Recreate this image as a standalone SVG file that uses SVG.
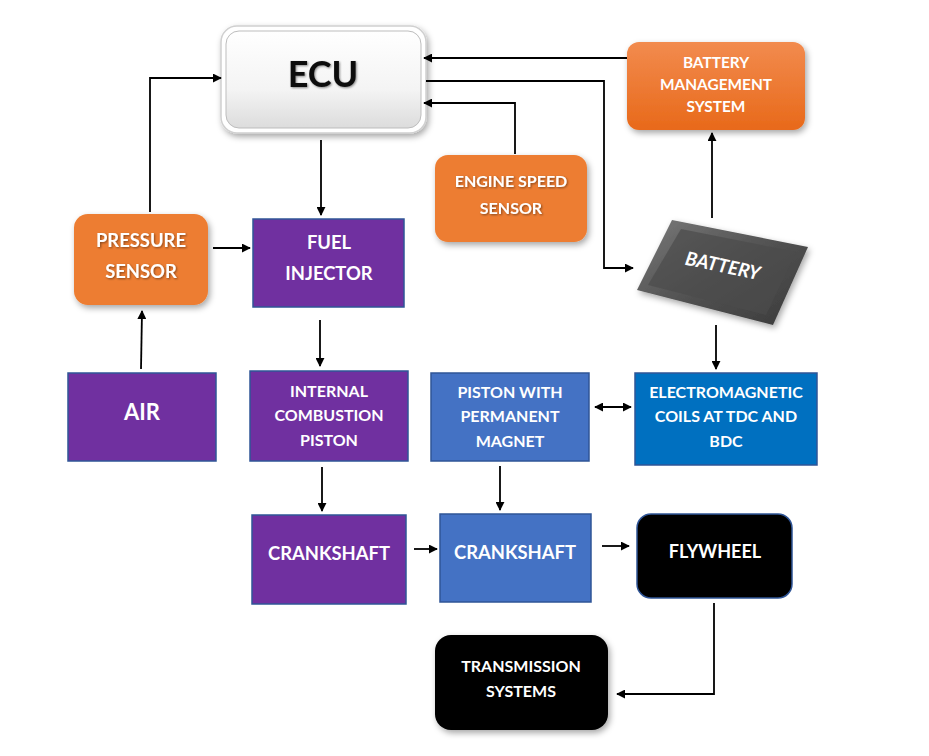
<svg xmlns="http://www.w3.org/2000/svg" width="929" height="756" viewBox="0 0 929 756">
<defs>
  <marker id="arr" viewBox="0 0 10 10" refX="9" refY="5" markerWidth="9" markerHeight="9" markerUnits="userSpaceOnUse" orient="auto-start-reverse">
    <path d="M0,0 L10,5 L0,10 z" fill="#000"/>
  </marker>
  <linearGradient id="ecuG" x1="0" y1="0" x2="0" y2="1">
    <stop offset="0" stop-color="#ffffff"/>
    <stop offset="0.6" stop-color="#f4f4f4"/>
    <stop offset="1" stop-color="#dcdcdc"/>
  </linearGradient>
  <linearGradient id="bmsG" x1="0" y1="0" x2="0" y2="1">
    <stop offset="0" stop-color="#F28B4E"/>
    <stop offset="1" stop-color="#E8691A"/>
  </linearGradient>
  <linearGradient id="batG" x1="0" y1="0" x2="1" y2="1">
    <stop offset="0" stop-color="#7a7a7a"/>
    <stop offset="0.5" stop-color="#525252"/>
    <stop offset="1" stop-color="#3a3a3a"/>
  </linearGradient>
  <filter id="sh" x="-20%" y="-20%" width="140%" height="150%">
    <feDropShadow dx="2" dy="3" stdDeviation="3" flood-color="#000" flood-opacity="0.35"/>
  </filter>
  <filter id="tsh" x="-10%" y="-20%" width="120%" height="150%">
    <feDropShadow dx="1" dy="1" stdDeviation="0.8" flood-color="#000" flood-opacity="0.45"/>
  </filter>
  <style>
    .t{font-family:"Lato","Open Sans","Liberation Sans",sans-serif;font-weight:bold;fill:#fff;text-anchor:middle;dominant-baseline:central;}
    .s18{font-size:18.4px;}
    .s16{font-size:16px;}
    .s15{font-size:15.4px;}
    .purple{fill:#7030A0;stroke:#2F5597;stroke-width:1.5;}
    .blue1{fill:#4472C4;stroke:#2F5597;stroke-width:1.5;}
    .blue2{fill:#0070C0;stroke:#2F5597;stroke-width:1.5;}
    .orange{fill:#ED7D31;}
    .black{fill:#000;stroke:#2F5597;stroke-width:1.5;}
    .c{fill:none;stroke:#000;stroke-width:1.8;marker-end:url(#arr);}
  </style>
</defs>
<rect width="929" height="756" fill="#fff"/>

<g id="ecu">
  <rect x="221" y="26" width="205" height="107" rx="16" fill="#fff" stroke="#d0d0d0" stroke-width="1.5" filter="url(#sh)"/>
  <rect x="226" y="31" width="195" height="97" rx="13" fill="url(#ecuG)" stroke="#bdbdbd" stroke-width="1"/>
  <text x="323" y="73" class="t" style="font-size:36px;fill:#111;" filter="url(#tsh)">ECU</text>
</g>

<g id="bms">
  <rect x="627" y="42" width="178" height="88" rx="12" fill="url(#bmsG)" filter="url(#sh)"/>
  <text class="t s15" x="716" y="62">BATTERY</text>
  <text class="t s15" x="716" y="84">MANAGEMENT</text>
  <text class="t s15" x="716" y="106">SYSTEM</text>
</g>

<g id="engine-speed-sensor">
  <rect x="435" y="155" width="152" height="87" rx="13" class="orange" filter="url(#sh)"/>
  <text class="t s16" x="511" y="180" filter="url(#tsh)">ENGINE SPEED</text>
  <text class="t s16" x="511" y="207" filter="url(#tsh)">SENSOR</text>
</g>

<g id="pressure-sensor">
  <rect x="74" y="214" width="134" height="91" rx="14" class="orange" filter="url(#sh)"/>
  <text class="t s18" x="141" y="240" filter="url(#tsh)">PRESSURE</text>
  <text class="t s18" x="141" y="271" filter="url(#tsh)">SENSOR</text>
</g>

<g id="fuel-injector">
  <rect x="253" y="219" width="151" height="88" class="purple"/>
  <text class="t s18" x="329" y="242">FUEL</text>
  <text class="t s18" x="329" y="273">INJECTOR</text>
</g>

<g id="battery">
  <polygon points="672,220 808,247 773,325 637,290" fill="url(#batG)" filter="url(#sh)"/>
  <polygon points="681,229 796,252 766,315 648,285" fill="#4c4c4c" opacity="0.7"/>
  <text class="t" x="723" y="265" transform="rotate(12 723 265)" style="font-size:19px;font-style:italic;">BATTERY</text>
</g>

<g id="air">
  <rect x="68" y="373" width="148" height="88" class="purple"/>
  <text class="t" x="142" y="411" style="font-size:22px;">AIR</text>
</g>

<g id="internal-combustion-piston">
  <rect x="250" y="371" width="158" height="90" class="purple"/>
  <text class="t s16" x="329" y="390">INTERNAL</text>
  <text class="t s16" x="329" y="414">COMBUSTION</text>
  <text class="t s16" x="329" y="439">PISTON</text>
</g>

<g id="piston-magnet">
  <rect x="431" y="373" width="158" height="88" class="blue1"/>
  <text class="t s16" x="510" y="391">PISTON WITH</text>
  <text class="t s16" x="510" y="415">PERMANENT</text>
  <text class="t s16" x="510" y="440">MAGNET</text>
</g>

<g id="em-coils">
  <rect x="635" y="373" width="182" height="92" class="blue2"/>
  <text class="t s16" x="726" y="391">ELECTROMAGNETIC</text>
  <text class="t s16" x="726" y="415">COILS AT TDC AND</text>
  <text class="t s16" x="726" y="440">BDC</text>
</g>

<g id="crankshaft-1">
  <rect x="252" y="515" width="154" height="89" class="purple"/>
  <text class="t s18" x="329" y="553">CRANKSHAFT</text>
</g>

<g id="crankshaft-2">
  <rect x="440" y="514" width="151" height="88" class="blue1"/>
  <text class="t s18" x="515" y="552">CRANKSHAFT</text>
</g>

<g id="flywheel">
  <rect x="637" y="514" width="155" height="84" rx="14" class="black"/>
  <text class="t" x="715" y="551" style="font-size:18px;">FLYWHEEL</text>
</g>

<g id="transmission">
  <rect x="435" y="635" width="173" height="95" rx="16" fill="#000" filter="url(#sh)"/>
  <text class="t s16" x="521" y="665">TRANSMISSION</text>
  <text class="t s16" x="521" y="690">SYSTEMS</text>
</g>

<g id="connectors">
  <path class="c" d="M321,140 L321,215"/>
  <path class="c" d="M150,212 L150,78 L221,78"/>
  <path class="c" d="M141,369 L142,311"/>
  <path class="c" d="M213,248 L250,248"/>
  <path class="c" d="M320,320 L320,366"/>
  <path class="c" d="M322,467 L322,511"/>
  <path class="c" d="M414,549 L437,549"/>
  <path class="c" d="M500,466 L500,510"/>
  <path class="c" d="M602,546 L629,546"/>
  <path class="c" d="M714,603 L714,694 L617,694"/>
  <path class="c" d="M627,58 L424,58"/>
  <path class="c" d="M426,81 L604,81 L604,268 L633,268"/>
  <path class="c" d="M515,154 L515,103 L424,103"/>
  <path class="c" d="M712,218 L712,133"/>
  <path class="c" d="M716,325 L716,369"/>
  <path class="c" d="M595,407 L631,407" marker-start="url(#arr)"/>
</g>
</svg>
